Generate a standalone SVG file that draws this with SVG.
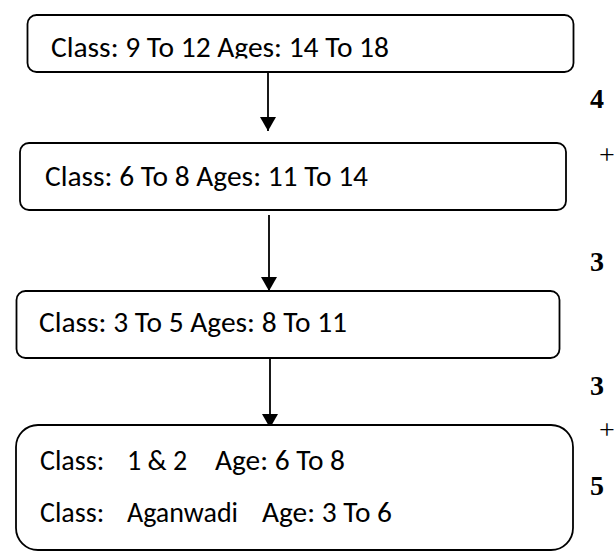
<svg xmlns="http://www.w3.org/2000/svg" width="614" height="552" viewBox="0 0 614 552">
  <style>
    .box { fill: #ffffff; stroke: #000000; stroke-width: 1.8; }
    .lbl { font-family: Calibri, Carlito, "Open Sans", sans-serif; font-size: 28px; fill: #000000; }
    .num { font-family: "Liberation Serif", "Times New Roman", serif; font-size: 28px; font-weight: bold; fill: #000000; }
    .plus { font-family: "Liberation Serif", "Times New Roman", serif; font-size: 28px; fill: #000000; }
    .conn { stroke: #000000; stroke-width: 1.8; fill: none; }
  </style>
  <defs>
    <marker id="arrow" viewBox="0 0 14 16" refX="14" refY="8" markerWidth="14" markerHeight="16" markerUnits="userSpaceOnUse" orient="auto">
      <path d="M0,0 L14,8 L0,16 Z" fill="#000000"/>
    </marker>
    <clipPath id="clip1">
      <rect x="27" y="15" width="547" height="43.5"/>
    </clipPath>
  </defs>
  <rect width="614" height="552" fill="#ffffff"/>

  <g id="connectors">
    <line class="conn" x1="268" y1="72" x2="268" y2="131" marker-end="url(#arrow)"/>
    <line class="conn" x1="269" y1="215" x2="269" y2="291" marker-end="url(#arrow)"/>
    <line class="conn" x1="270" y1="358" x2="270" y2="428" marker-end="url(#arrow)"/>
  </g>

  <g id="node1">
    <rect class="box" x="27.5" y="15" width="546" height="57" rx="9" ry="9"/>
    <text class="lbl" x="51" y="57" textLength="338" lengthAdjust="spacingAndGlyphs" clip-path="url(#clip1)">Class: 9 To 12 Ages: 14 To 18</text>
  </g>

  <g id="node2">
    <rect class="box" x="20" y="143" width="546" height="67" rx="9" ry="9"/>
    <text class="lbl" x="45" y="186" textLength="323" lengthAdjust="spacingAndGlyphs">Class: 6 To 8 Ages: 11 To 14</text>
  </g>

  <g id="node3">
    <rect class="box" x="16.5" y="291" width="543" height="67" rx="9" ry="9"/>
    <text class="lbl" x="39" y="332" textLength="308" lengthAdjust="spacingAndGlyphs">Class: 3 To 5 Ages: 8 To 11</text>
  </g>

  <g id="node4">
    <rect class="box" x="16" y="425" width="557" height="125" rx="22" ry="22"/>
    <text class="lbl" y="470"><tspan x="40">Class: </tspan><tspan x="127">1 &amp; 2 </tspan><tspan x="215" textLength="130" lengthAdjust="spacingAndGlyphs">Age: 6 To 8</tspan></text>
    <text class="lbl" y="522"><tspan x="40">Class: </tspan><tspan x="127">Aganwadi </tspan><tspan x="262" textLength="130" lengthAdjust="spacingAndGlyphs">Age: 3 To 6</tspan></text>
  </g>

  <g id="side-text">
    <text class="num" x="590" y="108">4</text>
    <text class="plus" x="599" y="164">+</text>
    <text class="num" x="590" y="271">3</text>
    <text class="num" x="590" y="395">3</text>
    <text class="plus" x="599" y="439">+</text>
    <text class="num" x="590" y="495">5</text>
  </g>
</svg>
